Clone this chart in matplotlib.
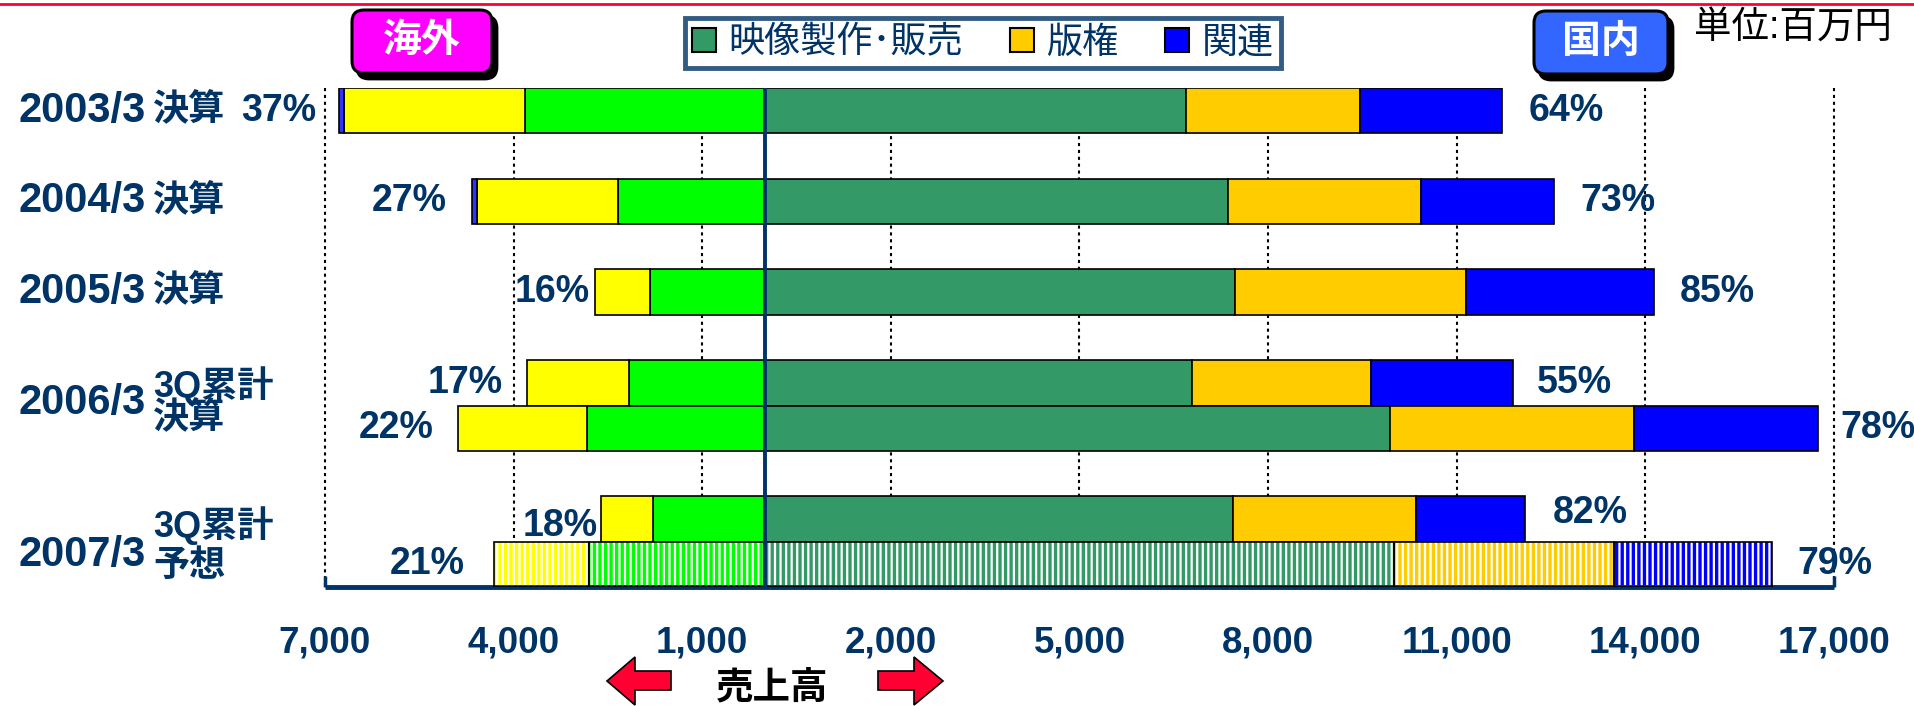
import matplotlib
matplotlib.use("Agg")
import matplotlib.pyplot as plt
from matplotlib.patches import Patch, FancyBboxPatch, Polygon
from matplotlib.lines import Line2D
from matplotlib.transforms import blended_transform_factory

# ---- data (単位: 百万円) ----
years = ['2003/3', '2004/3', '2005/3', '2006/3', '2007/3']
row_kinds = ['決算', '決算', '決算', '3Q累計', '決算', '3Q累計', '予想']
categories = ['映像製作･販売', '版権', '関連']

dom_video = [6700, 7362, 7470, 6788, 9943, 7440, 10002]
dom_rights = [2766, 3068, 3680, 2853, 3876, 2912, 3505]
dom_related = [2258, 2114, 2990, 2249, 2930, 1733, 2502]

ovs_video = [3814, 2333, 1837, 2158, 2831, 1778, 2801]
ovs_rights = [2882, 2250, 867, 1627, 2055, 829, 1509]
ovs_related = [85, 75, 0, 0, 0, 0, 0]

ovs_pct = ['37%', '27%', '16%', '17%', '22%', '18%', '21%']
dom_pct = ['64%', '73%', '85%', '55%', '78%', '82%', '79%']

tick_values = [-7000, -4000, -1000, 2000, 5000, 8000, 11000, 14000, 17000]

# ---- layout / style ----
W, H, DPI = 1915, 706, 100
NAVY = '#003366'
RED = '#FF0033'
row_y = [0, 2, 4, 6, 7, 9, 10]
forecast = [False, False, False, False, False, False, True]
dom_colors = ['#339966', '#FFCC00', '#0000FF']
ovs_colors = ['#00FF00', '#FFFF00', '#3333FF']
gap_left = [23, 26, 5, 24, 24, 3, 29]     # px between bar end and % label
gap_right = [26, 27, 26, 24, 22, 28, 26]
dy_left = [0, 0, 0, 0, 0, -7, 0]          # px, positive = up
dy_right = [0, 0, 0, 0, 0, 6, 0]

FONTS = ['Liberation Sans', 'Noto Sans CJK JP']
plt.rcParams['font.family'] = FONTS
plt.rcParams['hatch.linewidth'] = 1.6


def inch(x, y):
    """pixel position (from top-left) -> inches for dpi_scale_trans"""
    return (x / DPI, (H - y) / DPI)


def draw_stack(ax, series, colors, sign):
    for i, y in enumerate(row_y):
        left = 0
        for vals, col in zip(series, colors):
            w = sign * vals[i]
            if vals[i] == 0:
                continue
            if forecast[i]:
                ax.barh(y, w, left=left, height=1, color=col, edgecolor='white',
                        hatch='|||', linewidth=0, zorder=2)
                ax.barh(y, w, left=left, height=1, fill=False, edgecolor='black',
                        linewidth=1.2, zorder=3)
            else:
                ax.barh(y, w, left=left, height=1, color=col, edgecolor='black',
                        linewidth=1.2, zorder=2)
            left += w


def main():
    fig = plt.figure(figsize=(W / DPI, H / DPI), dpi=DPI)
    ax = fig.add_axes([325 / W, 1 - 587 / H, (1834 - 325) / W, (587 - 88) / H])

    draw_stack(ax, [dom_video, dom_rights, dom_related], dom_colors, 1)
    draw_stack(ax, [ovs_video, ovs_rights, ovs_related], ovs_colors, -1)

    ax.set_xlim(tick_values[0], tick_values[-1])
    ax.set_ylim(10.5, -0.5)

    # dotted grid + center line
    ax.vlines(tick_values, -0.5, 10.5, colors='black', linestyles=(0, (1.5, 1.8)),
              linewidth=1.5, zorder=0, clip_on=False)
    ax.axvline(0, color=NAVY, linewidth=2.8, zorder=5)

    for s in ['top', 'left', 'right']:
        ax.spines[s].set_visible(False)
    ax.spines['bottom'].set_color(NAVY)
    ax.spines['bottom'].set_linewidth(3.5)
    ax.spines['bottom'].set_capstyle('butt')
    ax.set_yticks([])
    ax.set_xticks(tick_values)
    ax.set_xticklabels([f'{abs(t):,}' for t in tick_values])
    ax.tick_params(axis='x', direction='in', length=8, width=2.5, color=NAVY,
                   pad=28, labelsize=26.5, labelcolor=NAVY)
    for lbl in ax.get_xticklabels():
        lbl.set_fontweight('bold')

    # percentage labels
    for i, y in enumerate(row_y):
        tot_o = ovs_video[i] + ovs_rights[i] + ovs_related[i]
        tot_d = dom_video[i] + dom_rights[i] + dom_related[i]
        ax.annotate(ovs_pct[i], xy=(-tot_o, y), xytext=(-gap_left[i] * 0.72, dy_left[i] * 0.72),
                    textcoords='offset points', ha='right', va='center',
                    fontsize=27, fontweight='bold', color=NAVY)
        ax.annotate(dom_pct[i], xy=(tot_d, y), xytext=(gap_right[i] * 0.72, dy_right[i] * 0.72),
                    textcoords='offset points', ha='left', va='center',
                    fontsize=27, fontweight='bold', color=NAVY, annotation_clip=False)

    # row labels (x in figure px, y in data)
    tr = blended_transform_factory(fig.transFigure, ax.transData)
    year_y = [0, 2, 4, 6.44, 9.8]
    for yr, yy in zip(years, year_y):
        ax.text(18 / W, yy, yr, transform=tr, ha='left', va='center',
                fontsize=30, fontweight='bold', color=NAVY)
    kind_y = [0, 2, 4, 6.05, 6.8, 9.15, 10.05]
    for k, yy in zip(row_kinds, kind_y):
        ax.text(153 / W, yy, k, transform=tr, ha='left', va='center',
                fontsize=26, fontweight='bold', color=NAVY)

    # legend
    handles = [Patch(facecolor=c, edgecolor='black', linewidth=1.5) for c in dom_colors]
    leg = fig.legend(handles, categories, loc='center', bbox_to_anchor=(983 / W, 1 - 43 / H),
                     ncol=3, frameon=True, fancybox=False, fontsize=26,
                     handlelength=0.65, handleheight=0.65, handletextpad=0.35,
                     columnspacing=1.3, borderpad=0.2, borderaxespad=0)
    leg.get_frame().set_edgecolor(NAVY)
    leg.get_frame().set_linewidth(3.5)
    for t in leg.get_texts():
        t.set_color(NAVY)

    # 海外 / 国内 boxes
    for (x0, y0, x1, y1), face, label in [((352, 10, 492, 73), '#FF00FF', '海外'),
                                         ((1534, 11, 1668, 74), '#3366FF', '国内')]:
        shadow = FancyBboxPatch(inch(x0 + 5, y1 + 6), (x1 - x0) / DPI, (y1 - y0) / DPI,
                                boxstyle='round,pad=0,rounding_size=0.12',
                                transform=fig.dpi_scale_trans, facecolor='black',
                                edgecolor='black', linewidth=2)
        box = FancyBboxPatch(inch(x0, y1), (x1 - x0) / DPI, (y1 - y0) / DPI,
                             boxstyle='round,pad=0,rounding_size=0.12',
                             transform=fig.dpi_scale_trans, facecolor=face,
                             edgecolor='black', linewidth=2.2)
        fig.add_artist(shadow)
        fig.add_artist(box)
        fig.text(*inch((x0 + x1) / 2, (y0 + y1) / 2), label, transform=fig.dpi_scale_trans,
                 ha='center', va='center', fontsize=28, fontweight='bold', color='white')

    fig.text(*inch(1694, 29), '単位:百万円', transform=fig.dpi_scale_trans,
             ha='left', va='center', fontsize=27, color='black')

    # red top rule
    fig.add_artist(Line2D([0, 1], [1 - 3.5 / H, 1 - 3.5 / H], transform=fig.transFigure,
                          color=RED, linewidth=2))

    # 売上高 with arrows
    fig.text(*inch(772, 688), '売上高', transform=fig.dpi_scale_trans,
             ha='center', va='center', fontsize=27, fontweight='bold', color='black')
    left_arrow = [(607, 681), (635, 657), (635, 671), (671, 671), (671, 690),
                  (635, 690), (635, 705)]
    right_arrow = [(943, 681), (914, 657), (914, 671), (878, 671), (878, 690),
                   (914, 690), (914, 705)]
    for pts in (left_arrow, right_arrow):
        fig.add_artist(Polygon([inch(x, y) for x, y in pts], closed=True,
                               transform=fig.dpi_scale_trans, facecolor=RED,
                               edgecolor='black', linewidth=1.2))

    fig.savefig('out.png', dpi=DPI, facecolor='white')
    plt.close(fig)


if __name__ == '__main__':
    main()
